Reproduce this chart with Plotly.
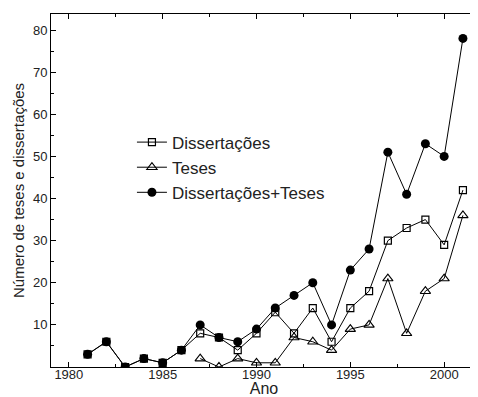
import plotly.graph_objects as go

years_d = list(range(1981, 2002))
dissertacoes = [3, 6, 0, 2, 1, 4, 8, 7, 4, 8, 13, 8, 14, 6, 14, 18, 30, 33, 35, 29, 42]
years_t = list(range(1987, 2002))
teses = [2, 0, 2, 1, 1, 7, 6, 4, 9, 10, 21, 8, 18, 21, 36]
years_dt = list(range(1981, 2002))
total = [3, 6, 0, 2, 1, 4, 10, 7, 6, 9, 14, 17, 20, 10, 23, 28, 51, 41, 53, 50, 78]

x_ticks = [1980, 1985, 1990, 1995, 2000]
y_ticks = [10, 20, 30, 40, 50, 60, 70, 80]

fig = go.Figure()
fig.add_trace(go.Scatter(
    x=years_d, y=dissertacoes, name="Dissertações", mode="lines+markers",
    line=dict(color="black", width=1),
    marker=dict(symbol="square-open", size=7, color="black", line=dict(width=1.2))))
fig.add_trace(go.Scatter(
    x=years_t, y=teses, name="Teses", mode="lines+markers",
    line=dict(color="black", width=1),
    marker=dict(symbol="triangle-up-open", size=9, color="black", line=dict(width=1.1))))
fig.add_trace(go.Scatter(
    x=years_dt, y=total, name="Dissertações+Teses", mode="lines+markers",
    line=dict(color="black", width=1),
    marker=dict(symbol="circle", size=9, color="black")))

axis_common = dict(showline=True, linecolor="black", linewidth=1, mirror="allticks",
                   ticks="inside", ticklen=5, tickwidth=1, tickcolor="black",
                   showgrid=False, zeroline=False, automargin=False,
                   tickfont=dict(family="Liberation Sans, Arial", size=13, color="#222"))

# the page body has an 8px default margin, so the figure is sized to fill the rest
fig.update_layout(
    width=470, height=389,
    margin=dict(l=43, r=1, t=6, b=30),
    paper_bgcolor="white", plot_bgcolor="white",
    font=dict(family="Liberation Sans, Arial", color="#222"),
    showlegend=True,
    legend=dict(x=0.19, y=0.565, xanchor="left", yanchor="middle",
                bgcolor="rgba(0,0,0,0)", font=dict(size=17, color="#222"),
                tracegroupgap=0, itemsizing="trace"),
    xaxis=dict(range=[1979.05, 2001.75], tickvals=x_ticks, ticklabelstandoff=-5,
               minor=dict(dtick=2.5, tick0=1980, ticks="inside", ticklen=3, tickcolor="black"),
               title=dict(text="Ano", font=dict(size=16), standoff=2),
               **axis_common),
    yaxis=dict(range=[0, 83.8], tickvals=y_ticks,
               minor=dict(dtick=5, tick0=0, ticks="inside", ticklen=3, tickcolor="black"),
               title=dict(text="Número de teses e dissertações", font=dict(size=15), standoff=4),
               **axis_common),
)

fig.write_html("out.html")
